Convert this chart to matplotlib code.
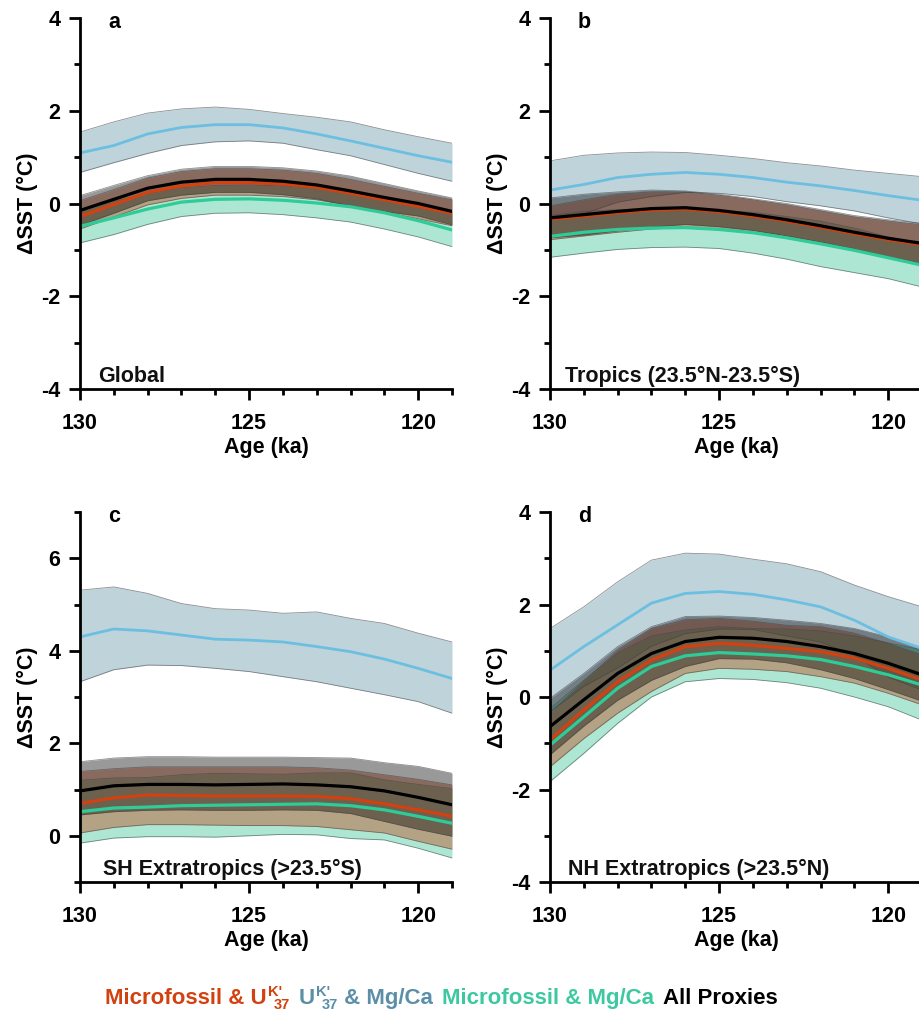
import matplotlib
matplotlib.use('Agg')
import matplotlib.pyplot as plt
from matplotlib.ticker import MultipleLocator

plt.rcParams['font.family'] = ['Liberation Sans', 'DejaVu Sans']
plt.rcParams['font.weight'] = 'bold'
plt.rcParams['axes.unicode_minus'] = False

AGE = [130, 129, 128, 127, 126, 125, 124, 123, 122, 121, 120, 119]

# ---------------- Panel a : Global ----------------
a_blue_mid = [1.09, 1.25, 1.50, 1.64, 1.70, 1.70, 1.63, 1.50, 1.35, 1.19, 1.03, 0.89]
a_blue_lo = [0.67, 0.88, 1.08, 1.25, 1.33, 1.35, 1.30, 1.16, 1.03, 0.84, 0.65, 0.48]
a_blue_hi = [1.54, 1.76, 1.95, 2.04, 2.08, 2.03, 1.94, 1.86, 1.76, 1.59, 1.44, 1.30]
a_all_mid = [-0.15, 0.09, 0.33, 0.46, 0.52, 0.52, 0.48, 0.40, 0.27, 0.13, 0.00, -0.17]
a_all_lo = [-0.47, -0.21, 0.06, 0.18, 0.24, 0.24, 0.19, 0.10, -0.05, -0.17, -0.27, -0.46]
a_all_hi = [0.17, 0.39, 0.60, 0.74, 0.80, 0.80, 0.77, 0.70, 0.59, 0.43, 0.27, 0.12]
a_red_mid = [-0.28, -0.02, 0.24, 0.38, 0.45, 0.45, 0.42, 0.35, 0.22, 0.08, -0.06, -0.21]
a_red_lo = [-0.55, -0.29, -0.03, 0.11, 0.18, 0.18, 0.15, 0.08, -0.05, -0.19, -0.33, -0.48]
a_red_hi = [0.06, 0.30, 0.55, 0.69, 0.75, 0.75, 0.72, 0.65, 0.52, 0.37, 0.22, 0.08]
a_grn_mid = [-0.49, -0.31, -0.12, 0.03, 0.09, 0.10, 0.07, 0.01, -0.07, -0.20, -0.37, -0.57]
a_grn_lo = [-0.85, -0.67, -0.45, -0.28, -0.21, -0.20, -0.24, -0.31, -0.40, -0.55, -0.72, -0.93]
a_grn_hi = [-0.13, 0.05, 0.21, 0.34, 0.39, 0.40, 0.38, 0.33, 0.26, 0.15, -0.02, -0.21]

# ---------------- Panel b : Tropics ----------------
b_blue_mid = [0.29, 0.41, 0.56, 0.63, 0.67, 0.63, 0.56, 0.46, 0.38, 0.28, 0.17, 0.07]
b_blue_lo = [-0.34, -0.22, 0.03, 0.15, 0.24, 0.22, 0.15, 0.04, -0.05, -0.16, -0.31, -0.44]
b_blue_hi = [0.92, 1.04, 1.09, 1.11, 1.10, 1.04, 0.97, 0.88, 0.81, 0.72, 0.65, 0.58]
b_all_mid = [-0.31, -0.24, -0.17, -0.11, -0.09, -0.15, -0.24, -0.35, -0.48, -0.62, -0.75, -0.86]
b_all_lo = [-0.74, -0.68, -0.59, -0.51, -0.45, -0.50, -0.58, -0.70, -0.83, -0.98, -1.15, -1.29]
b_all_hi = [0.12, 0.20, 0.25, 0.29, 0.27, 0.20, 0.10, 0.00, -0.13, -0.26, -0.35, -0.43]
b_red_mid = [-0.34, -0.27, -0.20, -0.14, -0.12, -0.18, -0.27, -0.38, -0.51, -0.65, -0.78, -0.89]
b_red_lo = [-0.78, -0.70, -0.62, -0.55, -0.52, -0.57, -0.64, -0.75, -0.88, -1.02, -1.16, -1.30]
b_red_hi = [-0.05, 0.08, 0.20, 0.25, 0.25, 0.18, 0.08, -0.03, -0.16, -0.29, -0.38, -0.46]
b_grn_mid = [-0.71, -0.62, -0.56, -0.53, -0.52, -0.56, -0.63, -0.74, -0.87, -1.01, -1.17, -1.33]
b_grn_lo = [-1.16, -1.07, -0.99, -0.95, -0.94, -0.97, -1.07, -1.20, -1.36, -1.49, -1.62, -1.80]
b_grn_hi = [-0.26, -0.17, -0.13, -0.11, -0.10, -0.15, -0.19, -0.28, -0.38, -0.53, -0.72, -0.86]

# ---------------- Panel c : SH Extratropics ----------------
c_blue_mid = [4.30, 4.47, 4.43, 4.34, 4.25, 4.23, 4.19, 4.09, 3.98, 3.82, 3.62, 3.40]
c_blue_lo = [3.33, 3.59, 3.69, 3.68, 3.62, 3.55, 3.44, 3.33, 3.19, 3.05, 2.90, 2.65]
c_blue_hi = [5.31, 5.38, 5.24, 5.02, 4.91, 4.88, 4.81, 4.84, 4.70, 4.59, 4.38, 4.19]
c_all_mid = [0.97, 1.08, 1.11, 1.11, 1.10, 1.11, 1.12, 1.10, 1.06, 0.97, 0.83, 0.67]
c_all_lo = [0.45, 0.52, 0.55, 0.56, 0.55, 0.55, 0.56, 0.55, 0.48, 0.31, 0.14, -0.01]
c_all_hi = [1.60, 1.68, 1.71, 1.71, 1.70, 1.70, 1.70, 1.69, 1.68, 1.58, 1.50, 1.35]
c_red_mid = [0.70, 0.82, 0.88, 0.87, 0.86, 0.86, 0.86, 0.85, 0.80, 0.69, 0.56, 0.42]
c_red_lo = [0.06, 0.18, 0.24, 0.24, 0.23, 0.22, 0.22, 0.20, 0.13, 0.06, -0.12, -0.29]
c_red_hi = [1.39, 1.45, 1.49, 1.49, 1.49, 1.49, 1.49, 1.47, 1.42, 1.32, 1.22, 1.10]
c_grn_mid = [0.52, 0.60, 0.62, 0.65, 0.66, 0.67, 0.68, 0.69, 0.65, 0.56, 0.42, 0.27]
c_grn_lo = [-0.16, -0.05, -0.02, -0.02, -0.03, 0.00, 0.03, 0.02, -0.06, -0.09, -0.27, -0.48]
c_grn_hi = [1.20, 1.25, 1.26, 1.32, 1.35, 1.34, 1.33, 1.36, 1.36, 1.21, 1.11, 1.02]

# ---------------- Panel d : NH Extratropics ----------------
d_blue_mid = [0.58, 1.09, 1.56, 2.03, 2.24, 2.28, 2.22, 2.10, 1.95, 1.66, 1.30, 1.05]
d_blue_lo = [-0.32, 0.23, 0.63, 1.10, 1.37, 1.47, 1.46, 1.32, 1.19, 0.90, 0.43, 0.15]
d_blue_hi = [1.48, 1.95, 2.49, 2.96, 3.11, 3.09, 2.98, 2.88, 2.71, 2.42, 2.17, 1.95]
d_all_mid = [-0.64, -0.06, 0.51, 0.94, 1.20, 1.29, 1.27, 1.20, 1.09, 0.94, 0.73, 0.48]
d_all_lo = [-1.25, -0.63, -0.07, 0.36, 0.66, 0.83, 0.82, 0.74, 0.59, 0.40, 0.16, -0.09]
d_all_hi = [-0.03, 0.51, 1.09, 1.52, 1.74, 1.75, 1.72, 1.66, 1.59, 1.48, 1.30, 1.05]
d_red_mid = [-0.93, -0.28, 0.33, 0.80, 1.09, 1.16, 1.12, 1.05, 0.98, 0.84, 0.62, 0.37]
d_red_lo = [-1.51, -0.90, -0.35, 0.12, 0.51, 0.62, 0.60, 0.55, 0.44, 0.30, 0.08, -0.17]
d_red_hi = [-0.35, 0.34, 1.01, 1.48, 1.67, 1.70, 1.64, 1.55, 1.52, 1.38, 1.16, 0.91]
d_grn_mid = [-1.04, -0.43, 0.19, 0.66, 0.89, 0.96, 0.93, 0.89, 0.81, 0.66, 0.48, 0.26]
d_grn_lo = [-1.83, -1.22, -0.57, 0.00, 0.33, 0.40, 0.38, 0.31, 0.19, 0.00, -0.21, -0.50]
d_grn_hi = [-0.25, 0.36, 0.95, 1.32, 1.45, 1.52, 1.48, 1.47, 1.43, 1.32, 1.17, 1.02]

panel_letters = ['a', 'b', 'c', 'd']
region_names = ['Global', 'Tropics (23.5°N-23.5°S)', 'SH Extratropics (>23.5°S)', 'NH Extratropics (>23.5°N)']
legend_names = ['Microfossil & U', "U", 'Microfossil & Mg/Ca', 'All Proxies']

# colours
BAND_BLUE = '#6191a7'
BAND_RED = '#c03c11'
BAND_GRN = '#34c593'
BAND_ALL = '#000000'
LINE_BLUE = '#6cbfe0'
LINE_RED = '#d2410f'
LINE_GRN = '#2ecc98'
LINE_ALL = '#000000'
TXT_RED = '#d2410f'
TXT_BLUE = '#5b8fa8'
TXT_GRN = '#3cc9a0'

W, H = 919, 1013
fig = plt.figure(figsize=(W / 100, H / 100), dpi=100)


def px_axes(l, t, r, b):
    return fig.add_axes([l / W, 1 - b / H, (r - l) / W, (b - t) / H])


def draw_panel(ax, data, ylim, letter, region, region_x):
    (blue_mid, blue_lo, blue_hi, all_mid, all_lo, all_hi,
     red_mid, red_lo, red_hi, grn_mid, grn_lo, grn_hi) = data
    for lo, hi, col in [(blue_lo, blue_hi, BAND_BLUE), (grn_lo, grn_hi, BAND_GRN),
                        (red_lo, red_hi, BAND_RED), (all_lo, all_hi, BAND_ALL)]:
        ax.fill_between(AGE, lo, hi, color=col, alpha=0.4, lw=0)
        ax.plot(AGE, lo, color='#444444', lw=0.6, alpha=0.6)
        ax.plot(AGE, hi, color='#444444', lw=0.6, alpha=0.6)
    ax.plot(AGE, blue_mid, color=LINE_BLUE, lw=2.0)
    ax.plot(AGE, grn_mid, color=LINE_GRN, lw=2.3)
    ax.plot(AGE, red_mid, color=LINE_RED, lw=2.3)
    ax.plot(AGE, all_mid, color=LINE_ALL, lw=2.3)

    ax.set_xlim(130, 119)
    ax.set_ylim(*ylim)
    ax.xaxis.set_major_locator(MultipleLocator(5))
    ax.xaxis.set_minor_locator(MultipleLocator(1))
    ax.yaxis.set_major_locator(MultipleLocator(2))
    ax.yaxis.set_minor_locator(MultipleLocator(1))
    for s in ['top', 'right']:
        ax.spines[s].set_visible(False)
    for s in ['left', 'bottom']:
        ax.spines[s].set_linewidth(2)
    ax.tick_params(which='major', length=8, width=2, direction='out', labelsize=15.5)
    ax.tick_params(axis='x', which='major', pad=9)
    ax.tick_params(axis='y', which='major', pad=6)
    ax.tick_params(which='minor', length=4.5, width=2, direction='out')
    ax.set_xlabel('Age (ka)', fontsize=15.5, fontweight='bold')
    ax.set_ylabel('ΔSST (°C)', fontsize=15.5, fontweight='bold')
    ax.xaxis.set_label_coords(0.5, -0.13)
    ax.yaxis.set_label_coords(-0.112, 0.5)
    ax.text(0.075, 0.973, letter, transform=ax.transAxes, fontsize=15.5,
            fontweight='bold', va='baseline', ha='left')
    ax.text(region_x, 0.018, region, transform=ax.transAxes, fontsize=15.5,
            fontweight='bold', va='baseline', ha='left', color='#111111')
    ax.patch.set_alpha(0)


ax_a = px_axes(80, 18, 452, 389)
ax_b = px_axes(550, 18, 922, 389)
ax_c = px_axes(80, 512, 452, 882)
ax_d = px_axes(550, 512, 922, 882)

draw_panel(ax_a, (a_blue_mid, a_blue_lo, a_blue_hi, a_all_mid, a_all_lo, a_all_hi,
                  a_red_mid, a_red_lo, a_red_hi, a_grn_mid, a_grn_lo, a_grn_hi),
           (-4, 4), panel_letters[0], region_names[0], 0.05)
draw_panel(ax_b, (b_blue_mid, b_blue_lo, b_blue_hi, b_all_mid, b_all_lo, b_all_hi,
                  b_red_mid, b_red_lo, b_red_hi, b_grn_mid, b_grn_lo, b_grn_hi),
           (-4, 4), panel_letters[1], region_names[1], 0.04)
draw_panel(ax_c, (c_blue_mid, c_blue_lo, c_blue_hi, c_all_mid, c_all_lo, c_all_hi,
                  c_red_mid, c_red_lo, c_red_hi, c_grn_mid, c_grn_lo, c_grn_hi),
           (-1, 7), panel_letters[2], region_names[2], 0.062)
draw_panel(ax_d, (d_blue_mid, d_blue_lo, d_blue_hi, d_all_mid, d_all_lo, d_all_hi,
                  d_red_mid, d_red_lo, d_red_hi, d_grn_mid, d_grn_lo, d_grn_hi),
           (-4, 4), panel_letters[3], region_names[3], 0.048)

# ---------------- legend as coloured text ----------------
renderer = fig.canvas.get_renderer()
BASE = 1004
state = {'x': 105.0}


def put(s, color, size=16, dy=0.0, x=None, advance=True):
    xx = state['x'] if x is None else x
    t = fig.text(xx / W, 1 - (BASE - dy) / H, s, color=color, fontsize=size,
                 fontweight='bold', va='baseline', ha='left')
    bb = t.get_window_extent(renderer)
    if advance:
        state['x'] = bb.x1
    return bb.x1


def put_uk37(color):
    x0 = state['x'] + 1
    e1 = put("K'", color, size=10.5, dy=8, x=x0, advance=False)
    e2 = put('37', color, size=10.5, dy=-5, x=x0 + 6, advance=False)
    state['x'] = max(e1, e2)


put(legend_names[0], TXT_RED)
put_uk37(TXT_RED)
state['x'] += 9
put(legend_names[1], TXT_BLUE)
put_uk37(TXT_BLUE)
put(' & Mg/Ca', TXT_BLUE)
state['x'] += 9
put(legend_names[2], TXT_GRN)
state['x'] += 9
put(legend_names[3], '#000000')

fig.savefig('out.png', dpi=100)
